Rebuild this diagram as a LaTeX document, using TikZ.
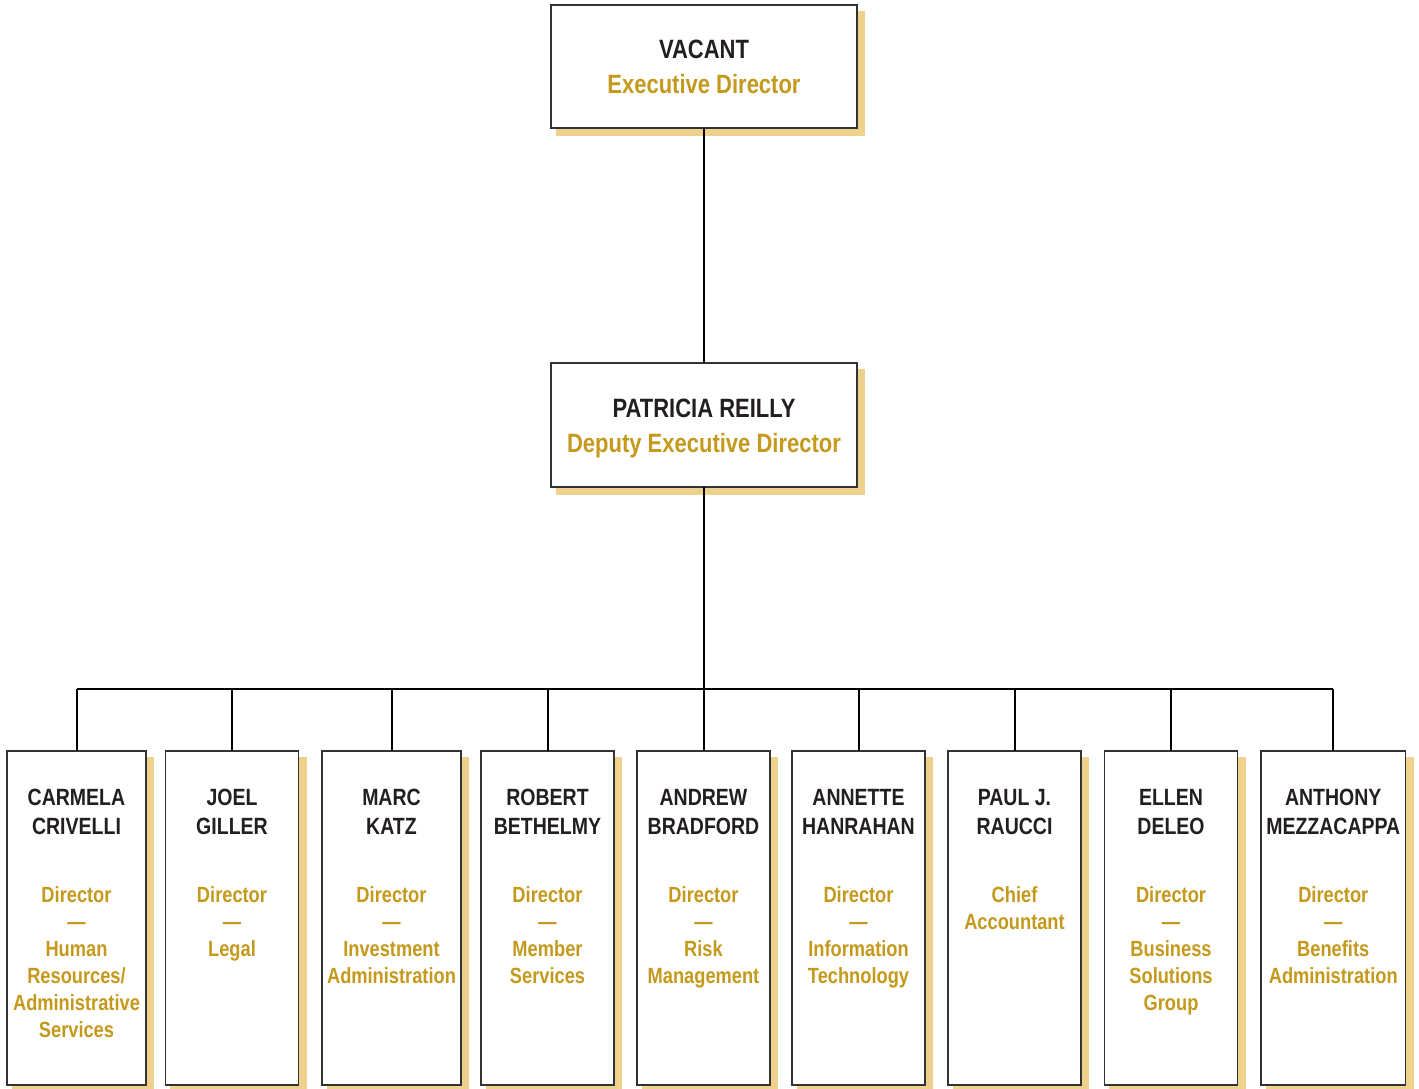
\documentclass[tikz,border=0pt]{standalone}
\usepackage{fontspec}
\setmainfont[FakeStretch=0.83]{Liberation Sans}
\definecolor{goldc}{HTML}{C4991C}
\definecolor{shadowc}{HTML}{EDD18C}
\definecolor{namec}{HTML}{231F20}
\definecolor{edgec}{HTML}{333333}
\newcommand{\orgbox}[5]{%
  \fill[shadowc] (#2+4.5,#3+5.5) rectangle (#4+8.3,#5+8.3);
  \node[fill=white,draw=edgec,line width=1.3pt,inner sep=0pt,outer sep=0pt,minimum width=#4pt-#2pt,minimum height=#5pt-#3pt,anchor=north west] (#1) at (#2,#3) {};
}
\tikzset{
  nm/.style={inner sep=0pt,anchor=north,align=center,text=namec,font=\bfseries\fontsize{23.5}{29}\selectfont},
  tt/.style={inner sep=0pt,anchor=north,align=center,text=goldc,font=\bfseries\fontsize{22}{27}\selectfont},
  bignm/.style={inner sep=0pt,anchor=north,align=center,text=namec,font=\bfseries\fontsize{26.5}{33}\selectfont},
  bigtt/.style={inner sep=0pt,anchor=north,align=center,text=goldc,font=\bfseries\fontsize{26.5}{33}\selectfont},
  conn/.style={line width=2pt,black},
}
\begin{document}
\begin{tikzpicture}[x=1pt,y=-1pt]
\useasboundingbox[fill=white] (0,0) rectangle (1419,1088);
% top boxes
\orgbox{top}{551}{5}{857}{128}
\orgbox{dep}{551}{363}{857}{487}
\node[bignm] (topn) at (704,40) {VACANT};
\node[bigtt] (topt) at (704,74) {Executive Director};
\node[bignm] (depn) at (704,398.5) {PATRICIA REILLY};
\node[bigtt] (dept) at (704,433.5) {Deputy Executive Director};
% bottom boxes
\orgbox{b1}{7}{751}{146}{1085}
\orgbox{b2}{165.5}{751}{298.5}{1085}
\orgbox{b3}{322}{751}{461}{1085}
\orgbox{b4}{481}{751}{614}{1085}
\orgbox{b5}{637}{751}{770}{1085}
\orgbox{b6}{792}{751}{925}{1085}
\orgbox{b7}{948}{751}{1081}{1085}
\orgbox{b8}{1104.5}{751}{1237.5}{1085}
\orgbox{b9}{1261}{751}{1405.5}{1085}
% connectors
\coordinate (bus) at (0,689);
\draw[conn] (top.south) -- (dep.north);
\draw[conn] (dep.south) -- (dep.south |- bus);
\draw[conn] (b1.north |- bus) -- (b9.north |- bus);
\foreach \i in {1,...,9}{\draw[conn] (b\i.north) -- (b\i.north |- bus);}
% texts
\node[nm] (n1) at (b1.north |- 0,789) {CARMELA\\CRIVELLI};
\node[tt] (t1) at (b1.north |- 0,886) {Director\\—\\Human\\Resources/\\Administrative\\Services};
\node[nm] (n2) at (b2.north |- 0,789) {JOEL\\GILLER};
\node[tt] (t2) at (b2.north |- 0,886) {Director\\—\\Legal};
\node[nm] (n3) at (b3.north |- 0,789) {MARC\\KATZ};
\node[tt] (t3) at (b3.north |- 0,886) {Director\\—\\Investment\\Administration};
\node[nm] (n4) at (b4.north |- 0,789) {ROBERT\\BETHELMY};
\node[tt] (t4) at (b4.north |- 0,886) {Director\\—\\Member\\Services};
\node[nm] (n5) at (b5.north |- 0,789) {ANDREW\\BRADFORD};
\node[tt] (t5) at (b5.north |- 0,886) {Director\\—\\Risk\\Management};
\node[nm] (n6) at (b6.north |- 0,789) {ANNETTE\\HANRAHAN};
\node[tt] (t6) at (b6.north |- 0,886) {Director\\—\\Information\\Technology};
\node[nm] (n7) at (b7.north |- 0,789) {PAUL J.\\RAUCCI};
\node[tt] (t7) at (b7.north |- 0,886) {Chief\\Accountant};
\node[nm] (n8) at (b8.north |- 0,789) {ELLEN\\DELEO};
\node[tt] (t8) at (b8.north |- 0,886) {Director\\—\\Business\\Solutions\\Group};
\node[nm] (n9) at (b9.north |- 0,789) {ANTHONY\\MEZZACAPPA};
\node[tt] (t9) at (b9.north |- 0,886) {Director\\—\\Benefits\\Administration};
\end{tikzpicture}
\end{document}
